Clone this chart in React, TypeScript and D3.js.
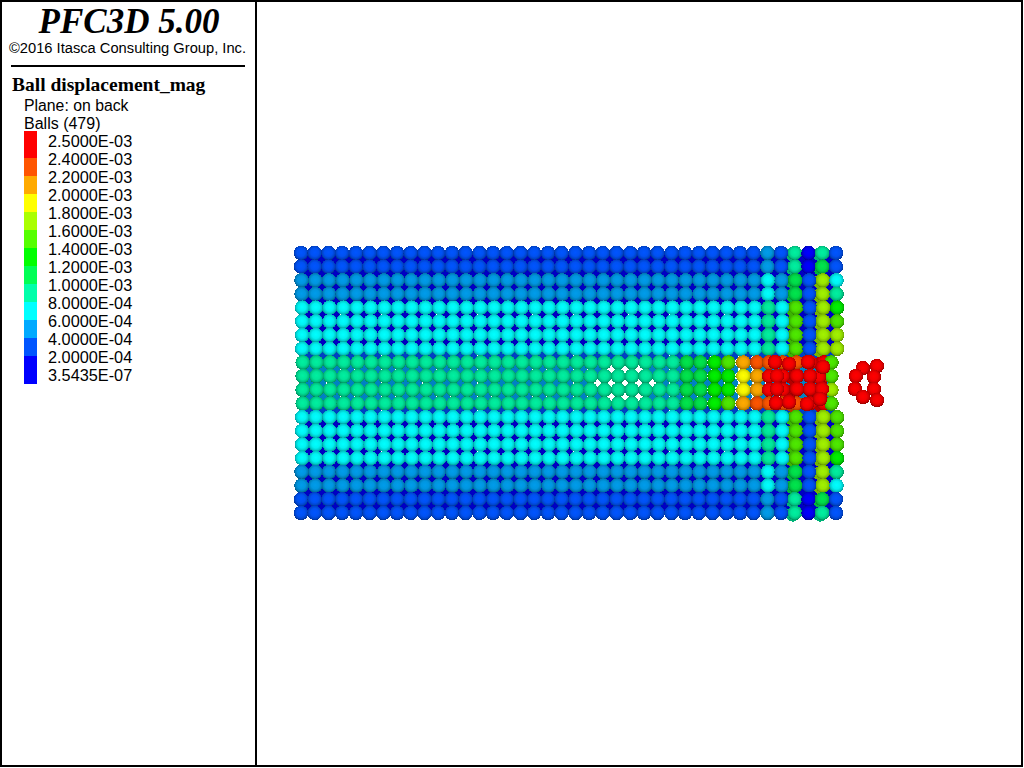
import * as d3 from 'd3';

// legend, top to bottom
const LEGEND_LABELS = [
  '2.5000E-03', '2.4000E-03', '2.2000E-03', '2.0000E-03', '1.8000E-03', '1.6000E-03', '1.4000E-03',
  '1.2000E-03', '1.0000E-03', '8.0000E-04', '6.0000E-04', '4.0000E-04', '2.0000E-04', '3.5435E-07',
];
const BAND_COLORS = [
  '#0000ff', '#0055ff', '#00aaff', '#00ffff', '#00ffaa', '#00ff55', '#00ff00',
  '#55ff00', '#aaff00', '#ffff00', '#ffaa00', '#ff5500', '#ff0000',
];
const BAND_LIMITS = [2, 4, 6, 8, 10, 12, 14, 16, 18, 20, 22, 24];
// how bright each band comes out on the balls
const BAND_LIGHT = [1, 1, 0.92, 1, 0.94, 0.9, 0.95, 0.92, 0.95, 1, 1, 1, 1];

// displacement of the front face, units of 1e-4, 20 rows x 40 columns
const FRONT_ROWS = [
  [3,3,3,3,3,3,3,3,3,3,3,3,3,3,3,3,3,3,3,3,3,3,3,3,3,3,3,3,3,3,3,3,3,3,5,3,9,1,9,3],
  [3,3,3,3,3,3,3,3,3,3,3,3,3,3,3,3,3,3,3,3,3,3,3,3,3,3,3,3,3,3,3,3,3,3,5,3,9,1,11,3],
  [5,5,5,5,5,5,5,5,5,5,5,5,5,5,5,5,5,5,5,5,5,5,5,5,5,5,5,5,5,5,5,5,5,5,7,5,11,3,17,7],
  [5,5,5,5,5,5,5,5,5,5,5,5,5,5,5,5,5,5,5,5,5,5,5,5,5,5,5,5,5,5,5,5,5,5,7,5,11,3,17,9],
  [7,7,7,7,7,7,7,7,7,7,7,7,7,7,7,7,7,7,7,7,7,7,7,7,7,7,7,7,7,7,7,7,7,7,9,7,15,3,17,13],
  [7,7,7,7,7,7,7,7,7,7,7,7,7,7,7,7,7,7,7,7,7,7,7,7,7,7,7,7,7,7,7,7,7,7,9,7,15,3,17,15],
  [7,7,7,7,7,7,7,7,7,7,7,7,7,7,7,7,7,7,7,7,7,7,7,7,7,7,7,7,7,7,7,7,7,7,9,7,15,3,17,17],
  [7,7,7,7,7,7,7,7,7,7,7,7,7,7,7,7,7,7,7,7,7,7,7,7,7,7,7,7,7,7,7,7,7,7,9,7,15,3,17,17],
  [9,9,9,9,9,9,9,9,9,9,9,9,9,9,9,9,9,9,9,9,9,9,9,9,9,9,9,9,11,11,13,15,21,23,23,23,23,25,25,15],
  [9,9,9,9,9,9,9,9,9,9,9,9,9,9,9,9,9,9,9,9,9,9,9,9,9,9,9,9,11,11,13,13,19,21,25,25,25,25,25,15],
  [9,9,9,9,9,9,9,9,9,9,9,9,9,9,9,9,9,9,9,9,9,9,9,9,9,9,9,9,11,11,13,13,19,21,25,25,25,25,25,17],
  [9,9,9,9,9,9,9,9,9,9,9,9,9,9,9,9,9,9,9,9,9,9,9,9,9,9,9,9,11,11,13,15,21,23,23,23,23,25,25,15],
  [7,7,7,7,7,7,7,7,7,7,7,7,7,7,7,7,7,7,7,7,7,7,7,7,7,7,7,7,7,7,7,7,7,7,9,7,15,3,17,15],
  [7,7,7,7,7,7,7,7,7,7,7,7,7,7,7,7,7,7,7,7,7,7,7,7,7,7,7,7,7,7,7,7,7,7,9,7,15,3,17,15],
  [7,7,7,7,7,7,7,7,7,7,7,7,7,7,7,7,7,7,7,7,7,7,7,7,7,7,7,7,7,7,7,7,7,7,9,7,15,3,17,15],
  [7,7,7,7,7,7,7,7,7,7,7,7,7,7,7,7,7,7,7,7,7,7,7,7,7,7,7,7,7,7,7,7,7,7,9,7,15,3,17,13],
  [5,5,5,5,5,5,5,5,5,5,5,5,5,5,5,5,5,5,5,5,5,5,5,5,5,5,5,5,5,5,5,5,5,5,7,5,11,3,17,9],
  [5,5,5,5,5,5,5,5,5,5,5,5,5,5,5,5,5,5,5,5,5,5,5,5,5,5,5,5,5,5,5,5,5,5,7,5,11,3,17,7],
  [3,3,3,3,3,3,3,3,3,3,3,3,3,3,3,3,3,3,3,3,3,3,3,3,3,3,3,3,3,3,3,3,3,3,5,3,9,1,11,3],
  [3,3,3,3,3,3,3,3,3,3,3,3,3,3,3,3,3,3,3,3,3,3,3,3,3,3,3,3,3,3,3,3,3,3,5,3,9,1,9,3],
];
// sideways drift of each row, in columns
const ROW_DRIFT = [0, 0, 0.04, 0.04, 0.08, 0.08, 0.08, 0.08, 0.12, 0.12, 0.12, 0.12, 0.08, 0.08, 0.08, 0.08, 0.04, 0.04, 0, 0];
// the middle rows are squeezed at the loaded end: extra drift for these columns
const SQUEEZED_ROWS = [8, 9, 10, 11];
const SQUEEZED_COLS = [30, 31, 32, 33, 39];
const SQUEEZED_DRIFT = [0.03, 0.03, 0.13, 0.13, -0.45];

// back face seen through the gaps: one value per gap row
const BACK_ROW_VALUES = [1, 1, 1, 1, 1, 1, 1, 3, 5, 5, 5, 3, 1, 1, 1, 1, 1, 1, 1];
const BACK_COLS = d3.range(0, 39);
// gaps with nothing behind them [row, col]
const BACK_HOLES = [
  [8, 22], [8, 23], [8, 24], [9, 21], [9, 22], [9, 23], [9, 24], [9, 25], [10, 22], [10, 23], [10, 24],
];
// second balls peeking out behind the columns 36 and 38
const BEHIND_COLS = [35.85, 37.85];

// balls pushed out of the grid
const LOOSE_COLS = [34.55, 35.57, 36.95, 37.76, 38.05, 34.69, 36.15, 37.1, 34.69, 36.15, 37.1, 37.97, 34.62, 35.57, 36.88, 37.83];
const LOOSE_ROWS = [7.97, 8.11, 7.97, 9.06, 8.33, 8.99, 8.99, 8.99, 9.94, 9.94, 9.94, 9.94, 10.96, 10.89, 11.04, 10.67];
const RING_COLS = [40.96, 41.98, 40.45, 41.76, 40.38, 41.76, 40.96, 41.98];
const RING_ROWS = [8.41, 8.26, 8.99, 9.06, 9.94, 9.94, 10.53, 10.75];
const LOOSE_VALUE = 25;

const RADIUS = 7.3;
const SERIF = '"Liberation Serif", serif';
const SANS = '"Liberation Sans", Arial, sans-serif';

const xCol = d3.scaleLinear().domain([0, 39]).range([301, 836]);
const yRow = d3.scaleLinear().domain([0, 19]).range([253, 513]);
const color = d3.scaleThreshold<number, string>().domain(BAND_LIMITS).range(BAND_COLORS);
const labelY = d3.scaleLinear().domain([0, 13]).range([141, 375]);

const shade = (c: string, k: number) => {
  const { r, g, b } = d3.rgb(c);
  return d3.rgb(r * k, g * k, b * k).formatHex();
};
const gradId = (v: number) => `ball-${BAND_COLORS.indexOf(color(v))}`;

const drift = (r: number, c: number) => {
  const i = SQUEEZED_ROWS.includes(r) ? SQUEEZED_COLS.indexOf(c) : -1;
  return ROW_DRIFT[r] + (i >= 0 ? SQUEEZED_DRIFT[i] : 0);
};

function Ball({ col, row, value, r = RADIUS, dark = 1 }: { col: number; row: number; value: number; r?: number; dark?: number }) {
  return (
    <circle
      cx={xCol(col)}
      cy={yRow(row)}
      r={r}
      fill={dark === 1 ? `url(#${gradId(value)})` : shade(color(value), dark)}
      shapeRendering="crispEdges"
    />
  );
}

export default function App() {
  const holes = new Set(BACK_HOLES.map(([r, c]) => `${r}-${c}`));
  return (
    <svg width={1024} height={768} style={{ position: 'fixed', left: 0, top: 0, display: 'block', background: '#fff' }}>
      <defs>
        {BAND_COLORS.map((c, i) => (
          <radialGradient key={c} id={`ball-${i}`} cx="0.5" cy="0.46" r="0.54">
            <stop offset="0" stopColor={shade(c, BAND_LIGHT[i])} />
            <stop offset="0.5" stopColor={shade(c, BAND_LIGHT[i] * 0.95)} />
            <stop offset="0.78" stopColor={shade(c, BAND_LIGHT[i] * 0.8)} />
            <stop offset="1" stopColor={shade(c, BAND_LIGHT[i] * 0.55)} />
          </radialGradient>
        ))}
      </defs>

      <rect x={1} y={1} width={1021} height={765} fill="none" stroke="#000" strokeWidth={2} />
      <line x1={256} x2={256} y1={1} y2={766} stroke="#000" strokeWidth={2} />
      <line x1={11} x2={245} y1={66} y2={66} stroke="#000" strokeWidth={2} />

      <text x={129} y={33} textAnchor="middle" fontFamily={SERIF} fontSize={35} fontWeight="bold" fontStyle="italic">PFC3D 5.00</text>
      <text x={127.5} y={53} textAnchor="middle" fontFamily={SANS} fontSize={14.7}>©2016 Itasca Consulting Group, Inc.</text>
      <text x={12} y={91} fontFamily={SERIF} fontSize={19.5} fontWeight="bold">Ball displacement_mag</text>
      <text x={24} y={111} fontFamily={SANS} fontSize={15.8}>Plane: on back</text>
      <text x={24} y={129} fontFamily={SANS} fontSize={16}>Balls (479)</text>

      {[...BAND_COLORS].reverse().map((c, i) => {
        const top = i === 0 ? labelY(0) - 10 : labelY(i) - 1;
        const bottom = i === 12 ? labelY(13) + 9 : labelY(i + 1) - 1;
        return <rect key={c} x={24} y={top} width={13} height={bottom - top} fill={c} />;
      })}
      {LEGEND_LABELS.map((t, i) => (
        <text key={t} x={48} y={labelY(i)} dy="0.36em" fontFamily={SANS} fontSize={16.3}>{t}</text>
      ))}

      <g>
        {BACK_ROW_VALUES.map((v, r) =>
          BACK_COLS.filter((c) => !holes.has(`${r}-${c}`)).map((c) => (
            <Ball key={`b${r}-${c}`} col={c + 0.5} row={r + 0.5} value={v} r={5} dark={0.76} />
          ))
        )}
      </g>
      <g>
        {FRONT_ROWS.map((vals, r) =>
          BEHIND_COLS.map((c, j) => (
            <Ball key={`h${r}-${j}`} col={c} row={r + 0.1} value={vals[j === 0 ? 36 : 38]} dark={0.7} />
          ))
        )}
      </g>
      <g>
        {FRONT_ROWS.map((vals, r) =>
          vals.map((v, c) => (
            <Ball key={`f${r}-${c}`} col={c + drift(r, c)} row={r} value={v} />
          ))
        )}
      </g>
      <g>
        {LOOSE_COLS.map((c, i) => (
          <Ball key={`l${i}`} col={c} row={LOOSE_ROWS[i]} value={LOOSE_VALUE} />
        ))}
        {RING_COLS.map((c, i) => (
          <Ball key={`o${i}`} col={c} row={RING_ROWS[i]} value={LOOSE_VALUE} />
        ))}
      </g>
    </svg>
  );
}
